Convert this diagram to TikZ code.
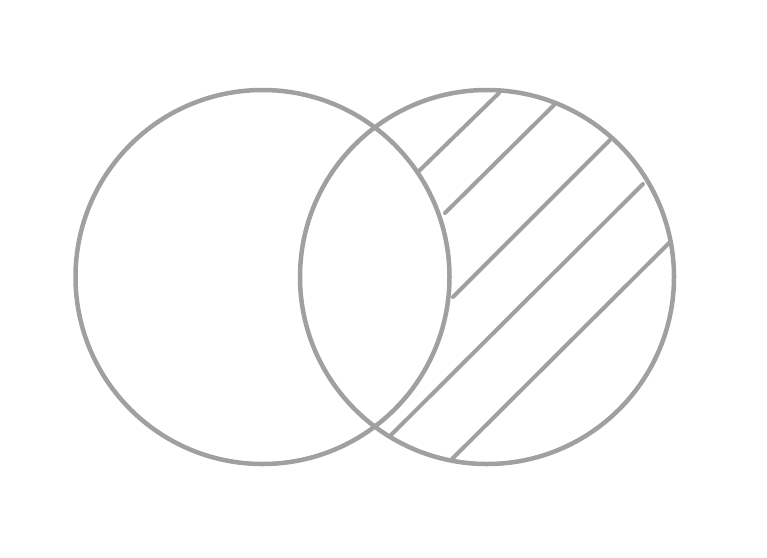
\documentclass[tikz,border=0pt]{standalone}
\usepackage{xcolor}
\usepackage{tikz}
\definecolor{setgray}{HTML}{A0A0A0}
\tikzset{
  setring/.style={draw=setgray, line width=4.5pt},
  hatchline/.style={draw=setgray, line width=4pt, line cap=round},
}

\begin{document}
\begin{tikzpicture}[x=1pt, y=-1pt]

\useasboundingbox (0,0) rectangle (767,557);

\coordinate (A) at (262.5,277);
\coordinate (B) at (487,277);

% hatching of B without A
\foreach \xa/\ya/\xb/\yb in {419/171/499/93, 445/213/554/105, 453/297/610/140,
                             391/435/643/184, 452/459/669/243}
  \draw[hatchline] (\xa,\ya) -- (\xb,\yb);

\draw[setring] (A) circle[radius=187];
\draw[setring] (B) circle[radius=187];

\end{tikzpicture}
\end{document}
